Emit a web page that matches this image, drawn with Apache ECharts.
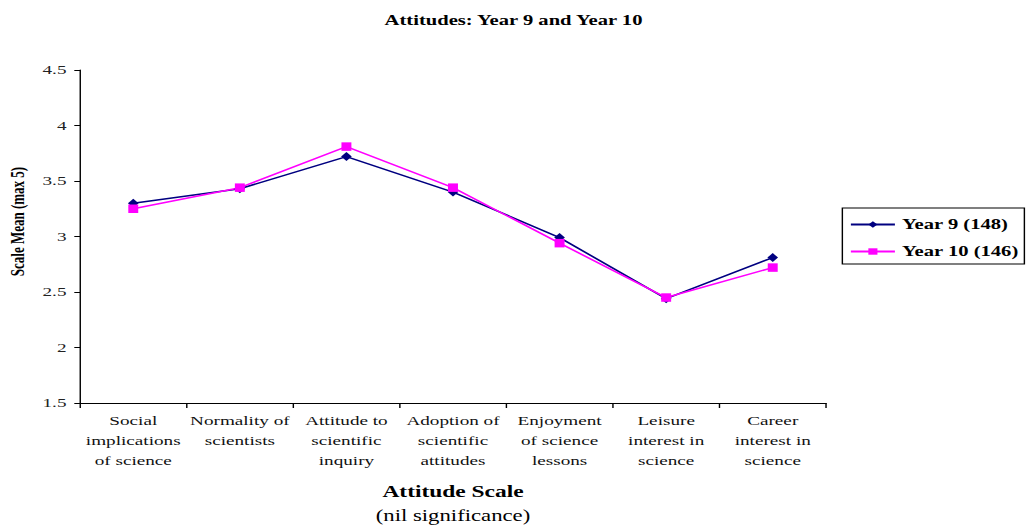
<!DOCTYPE html>
<html>
<head>
<meta charset="utf-8">
<script src="https://cdn.jsdelivr.net/npm/echarts@6/dist/echarts.min.js"></script>
<style>
html,body{margin:0;padding:0;background:#fff;overflow:hidden;}
#chart{width:723px;height:527px;transform:scaleX(1.4205);transform-origin:0 0;}
</style>
</head>
<body>
<div id="chart"></div>
<script>
const categories = [
  'Social\nimplications\nof science',
  'Normality of\nscientists',
  'Attitude to\nscientific\ninquiry',
  'Adoption of\nscientific\nattitudes',
  'Enjoyment\nof science\nlessons',
  'Leisure\ninterest in\nscience',
  'Career\ninterest in\nscience'
];
const year9 = [3.30, 3.43, 3.72, 3.40, 2.99, 2.44, 2.81];
const year10 = [3.25, 3.44, 3.81, 3.44, 2.94, 2.45, 2.72];
const seriesNames = ['Year 9 (148)', 'Year 10 (146)'];
const yMin = 1.5, yMax = 4.5, yStep = 0.5;

// The reference is drawn horizontally stretched; the chart is laid out
// in a narrower box and the box is stretched with CSS.
const serif = '"Liberation Serif", "Times New Roman", serif';
const chart = echarts.init(document.getElementById('chart'), null, {renderer: 'svg'});
chart.setOption({
  animation: false,
  backgroundColor: '#fff',
  title: {
    text: 'Attitudes: Year 9 and Year 10',
    left: 'center',
    top: 8,
    textStyle: {fontFamily: serif, fontWeight: 'bold', fontSize: 14.5, color: '#000'}
  },
  legend: {
    orient: 'vertical',
    left: 593,
    top: 208,
    padding: [9, 4, 5, 5],
    itemGap: 12,
    itemWidth: 31,
    itemHeight: 8,
    borderColor: '#000',
    borderWidth: 1,
    textStyle: {fontFamily: serif, fontWeight: 'bold', fontSize: 14.5, color: '#000'},
    data: seriesNames
  },
  grid: {left: 56.3, top: 70, width: 525.2, height: 333, containLabel: false, outerBoundsMode: 'none'},
  xAxis: {
    type: 'category',
    data: categories,
    boundaryGap: true,
    axisLine: {lineStyle: {color: '#000', width: 1}},
    axisTick: {show: true, length: 5, lineStyle: {color: '#000'}},
    axisLabel: {fontFamily: serif, fontSize: 13.5, color: '#111', lineHeight: 20, margin: 8, interval: 0},
    name: '{a|Attitude Scale}\n{b|(nil significance)}',
    nameLocation: 'middle',
    nameGap: 76,
    nameTextStyle: {
      rich: {
        a: {fontFamily: serif, fontWeight: 'bold', fontSize: 16.5, color: '#000', lineHeight: 24},
        b: {fontFamily: serif, fontSize: 16, color: '#000', lineHeight: 24}
      }
    }
  },
  yAxis: {
    type: 'value',
    min: yMin,
    max: yMax,
    interval: yStep,
    splitLine: {show: false},
    axisLine: {show: true, lineStyle: {color: '#000', width: 1}},
    axisTick: {show: true, length: 4, lineStyle: {color: '#000'}},
    axisLabel: {fontFamily: serif, fontSize: 13.5, color: '#222', margin: 9.5},
    name: 'Scale Mean (max 5)',
    nameLocation: 'middle',
    nameGap: 37.5,
    nameRotate: 90,
    nameTextStyle: {fontFamily: serif, fontWeight: 'bold', fontSize: 13, color: '#000', padding: [0, 0, 0, 30]}
  },
  series: [
    {
      name: seriesNames[0],
      type: 'line',
      data: year9,
      symbol: 'diamond',
      symbolSize: [7.5, 9],
      itemStyle: {color: '#000080'},
      lineStyle: {color: '#000080', width: 1.5}
    },
    {
      name: seriesNames[1],
      type: 'line',
      data: year10,
      symbol: 'rect',
      symbolSize: [7, 8.5],
      itemStyle: {color: '#FF00FF'},
      lineStyle: {color: '#FF00FF', width: 1.5}
    }
  ]
});
</script>
</body>
</html>
